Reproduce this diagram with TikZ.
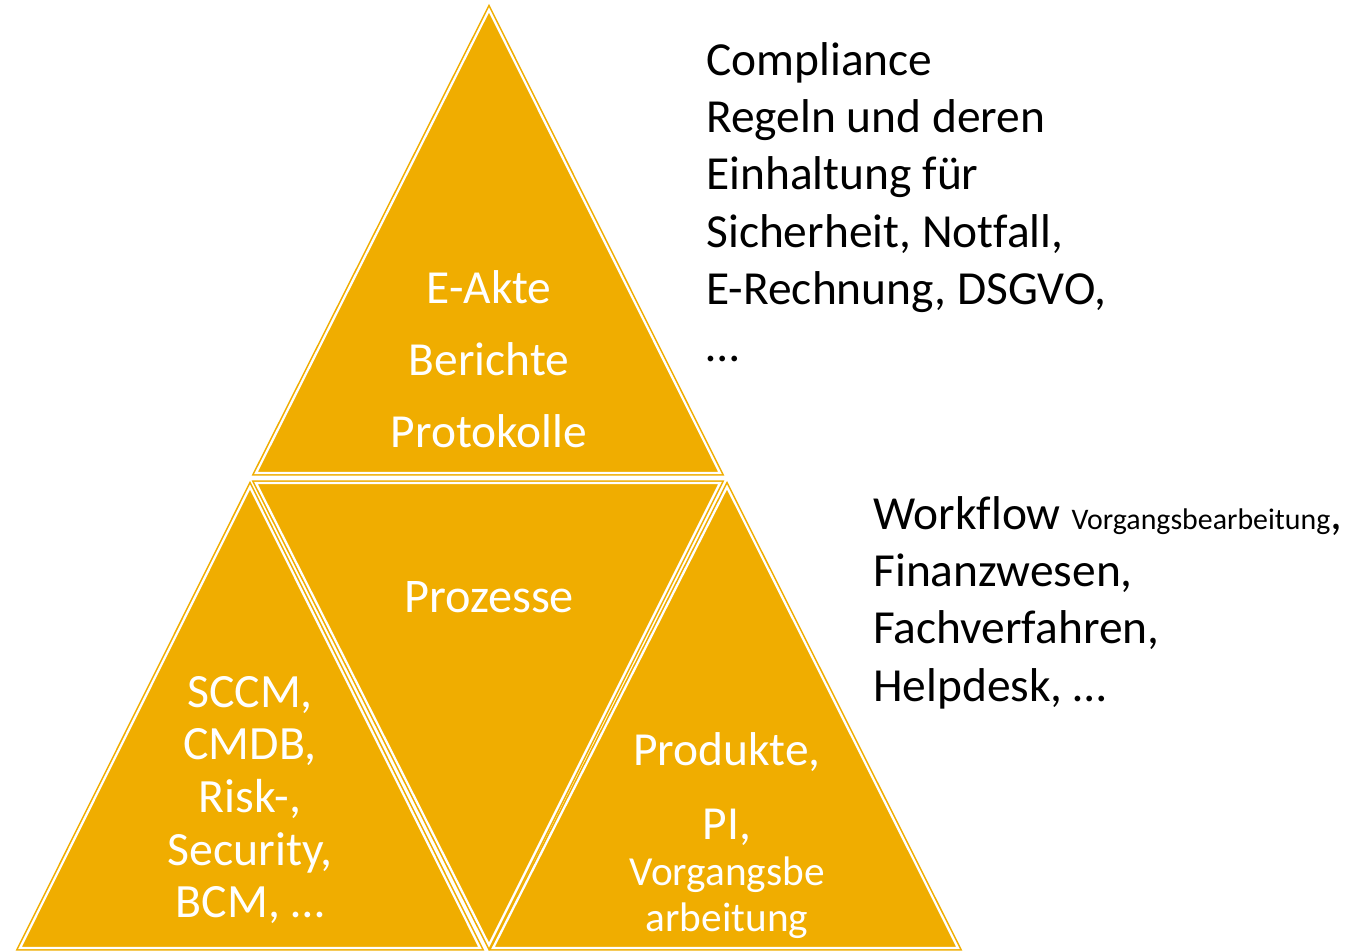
\documentclass[tikz,border=0pt]{standalone}
\usepackage{fontspec}
\setmainfont[Ligatures=NoCommon]{Carlito}
\definecolor{gold}{RGB}{240,173,0}
\tikzset{
  tri/.style={draw=gold,double=white,double distance=1.3pt,line width=0.9pt,fill=gold,line join=miter},
  lbl/.style={text=white,align=center,inner sep=0pt},
  note/.style={text=black,align=left,inner sep=0pt,anchor=north west}
}
\begin{document}
\begin{tikzpicture}[x=0.02cm,y=-0.02cm]
	\useasboundingbox (0,0) rectangle (1371,950);
	% Dreiecke
	\draw[tri] (489,10) -- (720,473) -- (256,473) -- cycle;
	\draw[tri] (256,483) -- (720,483) -- (489,945) -- cycle;
	\draw[tri] (250,487) -- (480,948) -- (20,948) -- cycle;
	\draw[tri] (727,487) -- (958,948) -- (493,948) -- cycle;
	% Beschriftung
	\node[lbl,font=\fontsize{27}{41}\selectfont] (akte) at (489,359) {E-Akte\\Berichte\\Protokolle};
	\node[lbl,font=\fontsize{27.5}{32}\selectfont] (prozesse) at (489,597) {Prozesse};
	\node[lbl,font=\fontsize{27.2}{30}\selectfont] (sccm) at (250,800) {SCCM,\\CMDB,\\Risk-,\\Security,\\BCM, …};
	\node[lbl,font=\fontsize{27}{42}\selectfont] (produkte) at (727,789) {Produkte,\\PI,};
	\node[lbl,font=\fontsize{23.5}{26}\selectfont] (vorgang) at (727,898) {Vorgangsbe\\arbeitung};
	\node[note,font=\fontsize{27}{32.6}\selectfont] (compliance) at (706,42) {Compliance\\Regeln und deren\\Einhaltung für\\Sicherheit, Notfall,\\E-Rechnung, DSGVO,\\…};
	\node[note,font=\fontsize{27}{32.6}\selectfont] (workflow) at (873,496) {Workflow {\fontsize{17}{17}\selectfont Vorgangsbearbeitung},\\Finanzwesen,\\Fachverfahren,\\Helpdesk, …};
\end{tikzpicture}
\end{document}
